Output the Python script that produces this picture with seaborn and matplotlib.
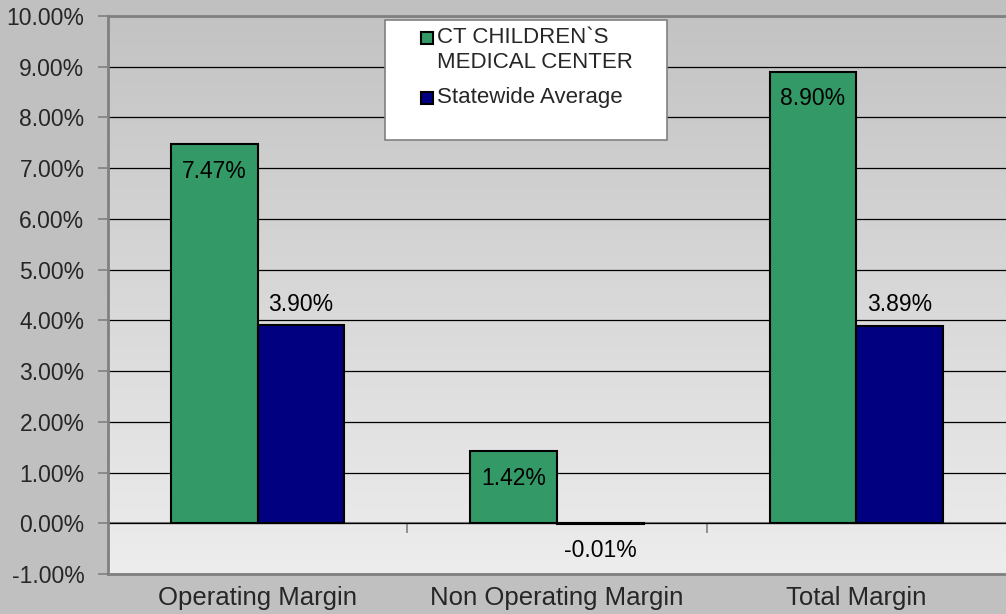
import numpy as np
import pandas as pd
import matplotlib.pyplot as plt
import seaborn as sns
from matplotlib.patches import Rectangle
from matplotlib.colors import LinearSegmentedColormap

# data
categories = ["Operating Margin", "Non Operating Margin", "Total Margin"]
hospital = [7.47, 1.42, 8.90]
statewide = [3.90, -0.01, 3.89]
series_names = ["CT CHILDREN`S\nMEDICAL CENTER", "Statewide Average"]
colors = ["#339966", "#000080"]
y_ticks = list(range(-1, 11))

df = pd.DataFrame({
    "category": categories * 2,
    "value": hospital + statewide,
    "series": [series_names[0]] * len(categories) + [series_names[1]] * len(categories),
})

sns.set_style("white")
plt.rcParams["font.family"] = ["Liberation Sans", "DejaVu Sans"]

W, H = 1006, 614
fig = plt.figure(figsize=(W / 100, H / 100), dpi=100, facecolor="#C0C0C0")
ax = fig.add_axes([108 / W, 1 - 574 / H, 898 / W, 558 / H])

# plot area gradient (light at the bottom, grey at the top)
grad = np.linspace(0, 1, 256).reshape(-1, 1)
cmap = LinearSegmentedColormap.from_list("bg", ["#EDEDED", "#C3C3C3"])
ax.imshow(grad, extent=[0, 1, 0, 1], transform=ax.transAxes, cmap=cmap,
          aspect="auto", origin="lower", zorder=0)

sns.barplot(data=df, x="category", y="value", hue="series", palette=colors,
            width=0.58, gap=0, edgecolor="black", linewidth=1.5,
            saturation=1, legend=False, ax=ax)

ax.set_xlim(-0.5, 2.5)
ax.set_ylim(-1, 10)
ax.set_xlabel("")
ax.set_ylabel("")

ax.set_yticks(y_ticks)
ax.set_yticklabels([f"{v:.2f}%" for v in y_ticks])
ax.tick_params(axis="y", left=True, length=7, width=1.2, direction="out",
               color="#808080", labelsize=16.5, pad=10)
ax.tick_params(axis="x", bottom=False, length=0, labelsize=18.5, pad=9)

ax.yaxis.grid(True, color="black", linewidth=0.9)
ax.set_axisbelow(True)

for side in ["left", "bottom", "top"]:
    ax.spines[side].set_visible(True)
    ax.spines[side].set_color("#808080")
    ax.spines[side].set_linewidth(2)
ax.spines["right"].set_visible(False)

# category axis crossing at 0 with ticks between groups
sec = ax.secondary_xaxis(1 / 11)
sec.xaxis.set_ticks_position("bottom")
sec.set_xticks([0.5, 1.5])
sec.tick_params(axis="x", length=7, width=1.2, direction="out",
                color="#808080", labelbottom=False, labeltop=False)
for side in sec.spines:
    sec.spines[side].set_visible(False)
sec.spines["bottom"].set_visible(True)
sec.spines["bottom"].set_color("#808080")
sec.spines["bottom"].set_linewidth(1.5)

# value labels: green inside the top, navy above (below when negative)
for i, container in enumerate(ax.containers):
    for bar in container:
        h = bar.get_height()
        x = bar.get_x() + bar.get_width() / 2
        if i == 0:
            off = -27
        else:
            off = 21 if h >= 0 else -27
        ax.annotate(f"{h:.2f}%", (x, h), xytext=(0, off),
                    textcoords="offset pixels", ha="center", va="center",
                    fontsize=16.5, color="black", zorder=5)

# legend box drawn by hand so the marker sits on the first text line
fig.add_artist(Rectangle((385 / W, 1 - 140 / H), 282 / W, 120 / H,
                         transform=fig.transFigure, facecolor="white",
                         edgecolor="#808080", linewidth=1.2, zorder=5))
marker_tops = [32, 92]
text_centers = [50, 98]
for name, c, mt, tc in zip(series_names, colors, marker_tops, text_centers):
    fig.add_artist(Rectangle((421 / W, 1 - (mt + 12) / H), 12 / W, 12 / H,
                             transform=fig.transFigure, facecolor=c,
                             edgecolor="black", linewidth=1.5, zorder=6))
    fig.text(437 / W, 1 - tc / H, name, ha="left", va="center",
             fontsize=16, linespacing=1.2, zorder=6)

fig.savefig("out.png", dpi=100, facecolor=fig.get_facecolor())
